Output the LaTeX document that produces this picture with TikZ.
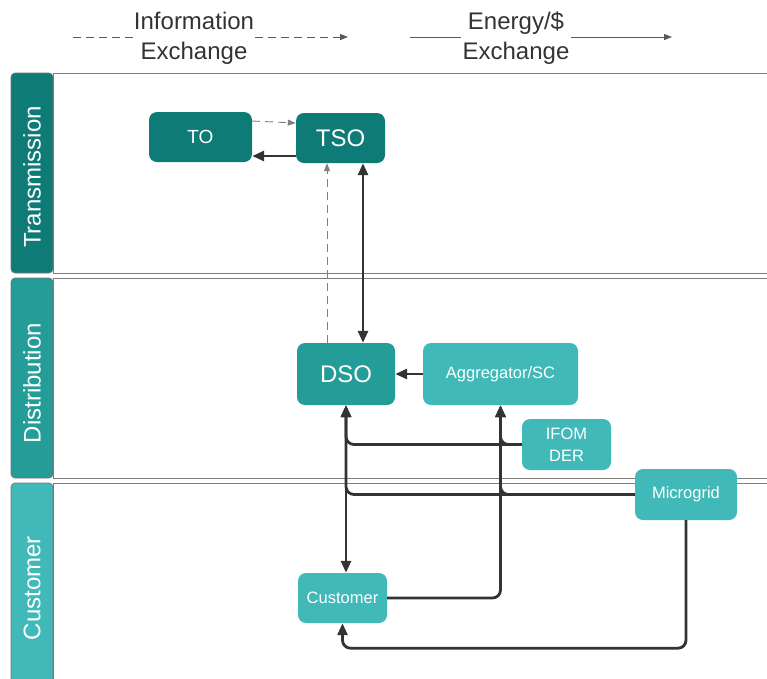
\documentclass[tikz,border=0pt]{standalone}
\usepackage{fontspec}
\setmainfont{Liberation Sans}
\usetikzlibrary{arrows.meta}

\definecolor{tealdark}{HTML}{0F7B77}
\definecolor{tealmid}{HTML}{249C98}
\definecolor{teallight}{HTML}{40B9B8}
\definecolor{wire}{HTML}{333333}
\definecolor{lanerule}{HTML}{7F7F7F}

\tikzset{
  box/.style={rounded corners=8pt, text=white, align=center, inner sep=0pt},
  bigtext/.style={font=\fontsize{24}{28}\selectfont},
  smalltext/.style={font=\fontsize{16.5}{22}\selectfont},
  power/.style={draw=wire, line width=2.8pt, rounded corners=8pt},
  powerto/.style={power, -{Triangle[length=12pt,width=10pt]}},
  powerboth/.style={power, {Triangle[length=12pt,width=10pt]}-{Triangle[length=12pt,width=10pt]}},
  info/.style={draw=lanerule, line width=0.9pt, dash pattern=on 8pt off 5pt, -{Triangle[length=8pt,width=6pt]}},
  legendline/.style={draw=black!65, line width=1pt},
  lanetab/.style={draw=black!55, line width=0.6pt, rounded corners=4pt},
  lanetitle/.style={rotate=90, text=white, font=\fontsize{24}{28}\selectfont}
}

\begin{document}
\begin{tikzpicture}[x=1pt, y=-1pt]
  \useasboundingbox (0,0) rectangle (767,678);

  % legend
  \node[inner sep=1pt, align=center, font=\fontsize{24}{30}\selectfont, text=black!80] (infolbl) at (194,38) {Information\\Exchange};
  \node[inner sep=1pt, align=center, font=\fontsize{24}{30}\selectfont, text=black!80] (energylbl) at (516,38) {Energy/\$\\Exchange};
  \coordinate (infostart) at (73,37);
  \coordinate (infoend) at (348,37);
  \coordinate (energystart) at (410,37);
  \coordinate (energyend) at (672,37);
  \draw[legendline, dash pattern=on 8pt off 5pt] (infostart) -- (infostart -| infolbl.west);
  \draw[legendline, dash pattern=on 8pt off 5pt, -{Triangle[length=8pt,width=6pt]}] (infoend -| infolbl.east) -- (infoend);
  \draw[legendline] (energystart) -- (energystart -| energylbl.west);
  \draw[legendline, -{Triangle[length=8pt,width=6pt]}] (energyend -| energylbl.east) -- (energyend);

  % lanes
  \draw[lanerule, line width=0.8pt] (53,73) rectangle (770,273);
  \draw[lanerule, line width=0.8pt] (53,278) rectangle (770,478);
  \draw[lanerule, line width=0.8pt] (53,483) rectangle (770,695);
  \filldraw[lanetab, fill=tealdark] (53,73) {[rounded corners=4pt] -- (11,73) -- (11,273)} -- (53,273) -- cycle;
  \filldraw[lanetab, fill=tealmid] (53,278) {[rounded corners=4pt] -- (11,278) -- (11,478)} -- (53,478) -- cycle;
  \filldraw[lanetab, fill=teallight] (53,483) {[rounded corners=4pt] -- (11,483) -- (11,695)} -- (53,695) -- cycle;
  \node[lanetitle] (transtitle) at (32,177) {Transmission};
  \node[lanetitle] (disttitle) at (32,383) {Distribution};
  \node[lanetitle] (custtitle) at (32,588) {Customer};

  % actors
  \node[box, fill=tealdark, minimum width=103pt, minimum height=50pt, font=\fontsize{19}{22}\selectfont] (to) at (200.5,137) {TO};
  \node[box, fill=tealdark, bigtext, minimum width=89pt, minimum height=50pt] (tso) at (340.5,138) {TSO};
  \node[box, fill=tealmid, bigtext, minimum width=98pt, minimum height=62pt] (dso) at (346,374) {DSO};
  \node[box, fill=teallight, smalltext, minimum width=155pt, minimum height=62pt] (agg) at (500.5,374) {Aggregator/SC};
  \node[box, fill=teallight, smalltext, minimum width=89pt, minimum height=51pt] (ifom) at (566.5,444.5) {IFOM\\DER};
  \node[box, fill=teallight, smalltext, minimum width=102pt, minimum height=51pt] (micro) at (686,494.5) {Microgrid};
  \node[box, fill=teallight, smalltext, minimum width=89pt, minimum height=50pt] (cust) at (342.5,598) {Customer};

  % information exchange
  \draw[info] ([yshift=16pt]to.east) -- ([yshift=15pt]tso.west);
  \draw[info] ([xshift=-19pt]dso.north) -- ([xshift=-19pt]dso.north |- tso.south);

  % energy exchange
  \draw[powerto] ([yshift=-18pt]tso.west) -- ([yshift=-18pt]tso.west -| to.east);
  \draw[powerboth] ([xshift=17pt]dso.north) -- ([xshift=17pt]dso.north |- tso.south);
  \draw[powerto] (agg.west |- dso.east) -- (dso.east);
  \draw[powerboth] (dso.south) -- (dso.south |- cust.north);
  \draw[powerto] (ifom.west) -| (dso.south);
  \draw[powerto] (ifom.west) -| (agg.south);
  \draw[powerto] (micro.west) -| (dso.south);
  \draw[powerto] (micro.west) -| (agg.south);
  \draw[powerto] (cust.east) -| (agg.south);
  \draw[powerto] (micro.south) -- ++(0,128) -| (cust.south);
\end{tikzpicture}
\end{document}
